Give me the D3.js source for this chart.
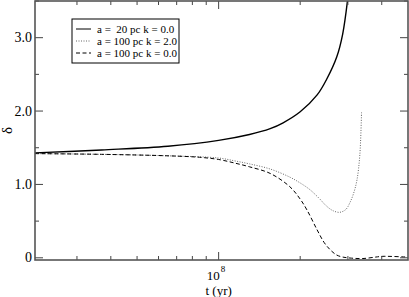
<!DOCTYPE html>
<html>
<head>
<meta charset="utf-8">
<script src="https://cdn.jsdelivr.net/npm/d3@7"></script>
<style>
  body { margin: 0; background: #fff; }
</style>
</head>
<body>
<div class="chart"></div>
<script>
const w = 409;
const h = 297;
const margin = { top: 1, right: 1, bottom: 37, left: 35 };
const serif = "'Liberation Serif', 'DejaVu Serif', 'Times New Roman', Times, serif";

// data (t in yr, delta)
const solidT = [2.1e7, 3.7e7, 6.5e7, 1.0e8, 1.3e8, 1.55e8, 1.73e8, 2.0e8, 2.31e8, 2.51e8, 2.73e8, 2.87e8, 3.0e8];
const solidD = [1.43, 1.47, 1.52, 1.60, 1.68, 1.76, 1.84, 1.99, 2.22, 2.44, 2.74, 3.05, 3.55];

const dotT = [2.1e7, 3.7e7, 6.5e7, 1.0e8, 1.15e8, 1.3e8, 1.55e8, 1.83e8, 2.0e8, 2.17e8, 2.35e8, 2.51e8, 2.65e8, 2.8e8, 2.95e8, 3.05e8, 3.15e8, 3.24e8, 3.32e8, 3.37e8];
const dotD = [1.42, 1.41, 1.39, 1.36, 1.32, 1.28, 1.21, 1.10, 1.02, 0.93, 0.81, 0.70, 0.64, 0.62, 0.66, 0.75, 0.88, 1.06, 1.40, 2.0];

const dashT = [2.1e7, 3.7e7, 6.5e7, 8.5e7, 1.0e8, 1.15e8, 1.3e8, 1.55e8, 1.83e8, 2.0e8, 2.12e8, 2.31e8, 2.45e8, 2.58e8, 2.72e8, 2.87e8, 3.1e8, 3.41e8, 3.8e8, 4.04e8, 4.95e8];
const dashD = [1.42, 1.41, 1.39, 1.37, 1.34, 1.29, 1.24, 1.15, 0.97, 0.80, 0.65, 0.38, 0.21, 0.11, 0.04, 0.01, -0.005, -0.01, 0.01, 0.02, 0.01];

const yMajor = [0, 1, 2, 3];
const yLabels = ["0", "1.0", "2.0", "3.0"];
const yMinor = [0.5, 1.5, 2.5, 3.5];
const xMajor = [1e8];
const xMinor = [3e7, 4e7, 5e7, 6e7, 7e7, 8e7, 9e7, 2e8, 3e8, 4e8];

const legendLabels = ["a =  20 pc k = 0.0", "a = 100 pc k = 2.0", "a = 100 pc k = 0.0"];

const width = w - margin.left - margin.right;
const height = h - margin.top - margin.bottom;

const svg = d3.select(".chart").append("svg")
  .attr("width", w)
  .attr("height", h)
  .attr("font-family", serif)
  .style("font-family", serif);

const x = d3.scaleLog().domain([2.1e7, 5e8]).range([margin.left, margin.left + width]);
const y = d3.scaleLinear().domain([-0.03, 3.5]).range([margin.top + height, margin.top]);

svg.append("defs").append("clipPath").attr("id", "clip")
  .append("rect")
  .attr("x", margin.left).attr("y", margin.top)
  .attr("width", width).attr("height", height);

const line = d3.line()
  .x(d => x(d[0]))
  .y(d => y(d[1]))
  .curve(d3.curveCatmullRom.alpha(0.5));

const series = [
  { t: solidT, d: solidD, color: "#000", sw: 1.4, dash: null },
  { t: dotT, d: dotD, color: "#666", sw: 1, dash: "1,1.5" },
  { t: dashT, d: dashD, color: "#000", sw: 1, dash: "4,2.5" }
];

const g = svg.append("g").attr("clip-path", "url(#clip)");
series.forEach(s => {
  g.append("path")
    .datum(s.t.map((t, i) => [t, s.d[i]]))
    .attr("d", line)
    .attr("fill", "none")
    .attr("stroke", s.color)
    .attr("stroke-width", s.sw)
    .attr("stroke-dasharray", s.dash);
});

// axes (ticks inward on all four sides)
const x0 = margin.left, x1 = margin.left + width;
const y0 = margin.top + height, y1 = margin.top;
const ticks = svg.append("g").attr("stroke", "#444").attr("stroke-width", 1);

yMajor.forEach(v => {
  ticks.append("line").attr("x1", x0).attr("x2", x0 + 8).attr("y1", y(v)).attr("y2", y(v));
  ticks.append("line").attr("x1", x1).attr("x2", x1 - 8).attr("y1", y(v)).attr("y2", y(v));
});
yMinor.forEach(v => {
  ticks.append("line").attr("x1", x0).attr("x2", x0 + 4).attr("y1", y(v)).attr("y2", y(v));
  ticks.append("line").attr("x1", x1).attr("x2", x1 - 4).attr("y1", y(v)).attr("y2", y(v));
});
xMajor.forEach(v => {
  ticks.append("line").attr("x1", x(v)).attr("x2", x(v)).attr("y1", y0).attr("y2", y0 - 8);
  ticks.append("line").attr("x1", x(v)).attr("x2", x(v)).attr("y1", y1).attr("y2", y1 + 8);
});
xMinor.forEach(v => {
  ticks.append("line").attr("x1", x(v)).attr("x2", x(v)).attr("y1", y0).attr("y2", y0 - 4);
  ticks.append("line").attr("x1", x(v)).attr("x2", x(v)).attr("y1", y1).attr("y2", y1 + 4);
});

svg.append("rect")
  .attr("x", x0).attr("y", y1)
  .attr("width", width).attr("height", height)
  .attr("fill", "none")
  .attr("stroke", "#555")
  .attr("stroke-width", 1.6);

// tick labels
svg.selectAll(".ylab").data(yMajor).enter().append("text")
  .attr("class", "ylab")
  .attr("x", 32)
  .attr("y", d => y(d) + 4.5)
  .attr("text-anchor", "end")
  .style("font-size", "14px")
  .text((d, i) => yLabels[i]);

svg.append("text")
  .attr("x", x(1e8) + 1)
  .attr("y", 280)
  .attr("text-anchor", "end")
  .style("font-size", "13px")
  .text("10");
svg.append("text")
  .attr("x", x(1e8) + 2)
  .attr("y", 272)
  .style("font-size", "9px")
  .text("8");

svg.append("text")
  .attr("x", x(1e8))
  .attr("y", 295)
  .attr("text-anchor", "middle")
  .style("font-size", "13px")
  .text("t (yr)");

svg.append("text")
  .attr("transform", "translate(12," + (margin.top + height / 2) + ") rotate(-90)")
  .attr("text-anchor", "middle")
  .style("font-size", "15px")
  .text("δ");

// legend
const legend = svg.append("g").attr("class", "legend");
legend.append("rect")
  .attr("x", 72).attr("y", 19)
  .attr("width", 107).attr("height", 44)
  .attr("fill", "#fff")
  .attr("stroke", "#000")
  .attr("stroke-width", 1);

const rows = legend.selectAll("g.row").data(series).enter().append("g")
  .attr("class", "row")
  .attr("transform", (d, i) => "translate(0," + (29 + i * 12) + ")");
rows.append("line")
  .attr("x1", 76).attr("x2", 91).attr("y1", 0).attr("y2", 0)
  .attr("stroke", d => d.color)
  .attr("stroke-width", 1)
  .attr("stroke-dasharray", d => d.dash);
rows.append("text")
  .attr("x", 97).attr("y", 3.5)
  .style("font-size", "11px")
  .style("white-space", "pre")
  .attr("xml:space", "preserve")
  .text((d, i) => legendLabels[i]);
</script>
</body>
</html>
